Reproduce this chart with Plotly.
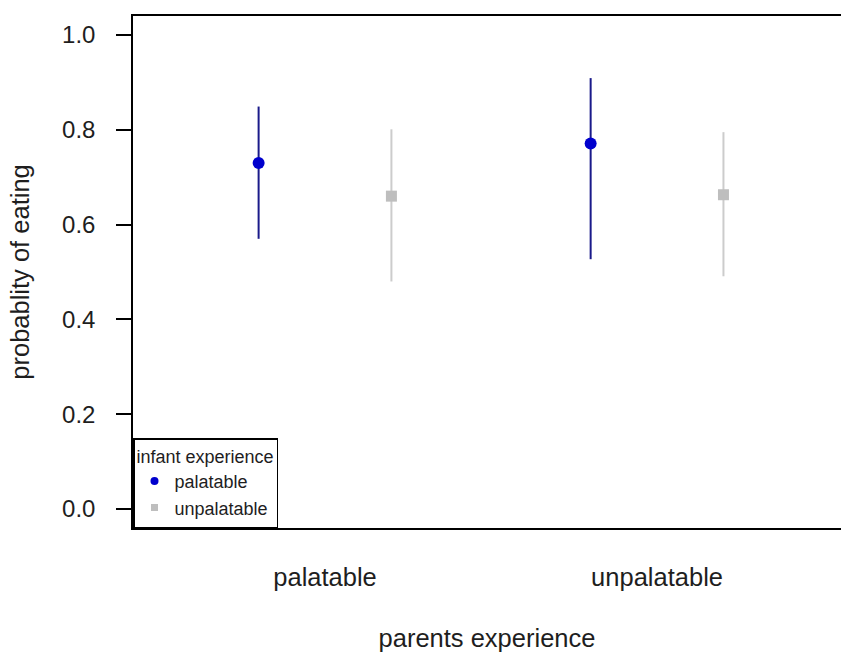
import plotly.graph_objects as go

# Parents' experience groups on the x axis
parent_groups = ["palatable", "unpalatable"]
group_pos = [1, 2]
offset = 0.2

# Estimated probability of eating, with lower/upper interval bounds
infant_palatable_mean = [0.73, 0.771]
infant_palatable_low = [0.570, 0.527]
infant_palatable_high = [0.849, 0.909]

infant_unpalatable_mean = [0.66, 0.663]
infant_unpalatable_low = [0.480, 0.491]
infant_unpalatable_high = [0.801, 0.795]

y_ticks = [0.0, 0.2, 0.4, 0.6, 0.8, 1.0]

FONT = "Liberation Sans, Arial, sans-serif"
TXT = "#1e1e1e"


def err(mean, low, high):
    up = [h - m for m, h in zip(mean, high)]
    dn = [m - l for m, l in zip(mean, low)]
    return up, dn


fig = go.Figure()

up, dn = err(infant_palatable_mean, infant_palatable_low, infant_palatable_high)
fig.add_trace(go.Scatter(
    x=[p - offset for p in group_pos], y=infant_palatable_mean,
    mode="markers", showlegend=False,
    marker=dict(symbol="circle", size=12, color="#0000cd"),
    error_y=dict(type="data", symmetric=False, array=up, arrayminus=dn,
                 color="#1a1a8a", thickness=2, width=0),
))

up, dn = err(infant_unpalatable_mean, infant_unpalatable_low, infant_unpalatable_high)
fig.add_trace(go.Scatter(
    x=[p + offset for p in group_pos], y=infant_unpalatable_mean,
    mode="markers", showlegend=False,
    marker=dict(symbol="square", size=11, color="#bebebe"),
    error_y=dict(type="data", symmetric=False, array=up, arrayminus=dn,
                 color="#cccccc", thickness=2, width=0),
))

# Legend entries
fig.add_trace(go.Scatter(x=[None], y=[None], mode="markers", name="palatable",
                         marker=dict(symbol="circle", size=8, color="#0000cd")))
fig.add_trace(go.Scatter(x=[None], y=[None], mode="markers", name="unpalatable",
                         marker=dict(symbol="square", size=7, color="#bebebe")))

fig.update_layout(
    width=841, height=655,
    margin=dict(l=133, r=0, t=16, b=127),
    paper_bgcolor="white", plot_bgcolor="white",
    font=dict(family=FONT, color=TXT, size=24),
    showlegend=True,
    legend=dict(
        x=0, y=0, xanchor="left", yanchor="bottom",
        bordercolor="#000000", borderwidth=1.5, bgcolor="white",
        title=dict(text="infant experience", font=dict(size=18)),
        font=dict(size=18), tracegroupgap=0, itemwidth=30,
    ),
    xaxis=dict(
        range=[0.4217, 2.554], tickmode="array", tickvals=group_pos,
        ticktext=parent_groups, ticks="", showgrid=False, zeroline=False,
        showline=True, linecolor="#000000", linewidth=1.5, mirror=True,
        ticklabelstandoff=26, tickfont=dict(size=25.5),
        title=dict(text="parents experience", font=dict(size=25.5), standoff=39),
    ),
    yaxis=dict(
        range=[-0.04, 1.04], tickmode="array", tickvals=y_ticks,
        ticktext=[f"{v:.1f}" for v in y_ticks], ticks="outside", ticklen=15,
        tickwidth=1.5, tickcolor="#000000", showgrid=False, zeroline=False,
        showline=True, linecolor="#000000", linewidth=1.5,
        ticklabelstandoff=16, tickfont=dict(size=24),
        title=dict(text="probablity of eating", font=dict(size=25.5), standoff=25),
    ),
)

fig.write_html("out.html")
